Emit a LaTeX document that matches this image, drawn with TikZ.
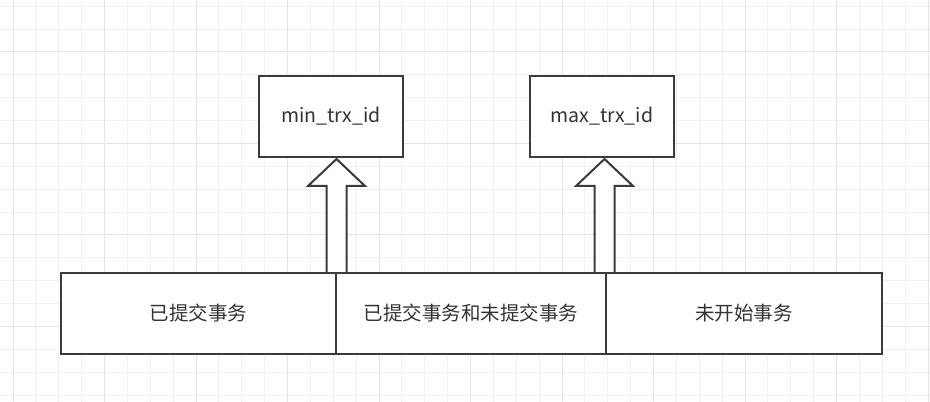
\documentclass[tikz,border=0pt]{standalone}
\usepackage{fontspec}
\setmainfont{Noto Sans CJK SC}
\usetikzlibrary{calc}
\definecolor{minorgrid}{HTML}{F1F1F1}
\definecolor{majorgrid}{HTML}{E4E4E4}
\definecolor{strokec}{HTML}{383B40}
\definecolor{textc}{HTML}{333333}
\tikzset{
  box/.style={draw=strokec, line width=2pt, fill=white, minimum height=81pt, inner sep=0pt,
    text=textc, font=\fontsize{19.5}{22}\selectfont},
  fatarrow/.style={draw=strokec, line width=2pt, fill=white, line join=miter},
}
\begin{document}
\begin{tikzpicture}[x=1pt,y=1pt]
\useasboundingbox (0,0) rectangle (930,402);
\fill[white] (0,0) rectangle (930,402);
% grid
\foreach \i in {0,...,40}{
  \pgfmathsetmacro\xx{13+22.875*\i}
  \draw[minorgrid, line width=1pt] (\xx,0) -- (\xx,402);
}
\foreach \j in {0,...,17}{
  \pgfmathsetmacro\yy{402-(6.25+22.875*\j)}
  \draw[minorgrid, line width=1pt] (0,\yy) -- (930,\yy);
}
\foreach \i in {0,...,10}{
  \pgfmathsetmacro\xx{13+91.5*\i}
  \draw[majorgrid, line width=1pt] (\xx,0) -- (\xx,402);
}
\foreach \j in {0,...,3}{
  \pgfmathsetmacro\yy{402-(52+91.5*\j)}
  \draw[majorgrid, line width=1pt] (0,\yy) -- (930,\yy);
}
% top boxes
\node[box, minimum width=144pt] (minbox) at (331,285.5) {min\_trx\_id};
\node[box, minimum width=144pt] (maxbox) at (602,285.5) {max\_trx\_id};
% arrow base coordinates
\coordinate (a1) at (336.5,129);
\coordinate (a2) at (604.5,129);
% fat arrows
\foreach \base/\target in {a1/minbox, a2/maxbox}{
  \draw[fatarrow] ($(\base)+(-10,0)$) -- ($(\base |- \target.south)+(-10,-28)$)
    -- ($(\base |- \target.south)+(-28.5,-28)$) -- ($(\base |- \target.south)+(0,-1)$)
    -- ($(\base |- \target.south)+(28.5,-28)$) -- ($(\base |- \target.south)+(10,-28)$)
    -- ($(\base)+(10,0)$);
}
% bottom row
\node[box, minimum width=275pt] (done) at (198.5,88.5) {已提交事务};
\node[box, minimum width=270pt] (mixed) at (471,88.5) {已提交事务和未提交事务};
\node[box, minimum width=276pt] (future) at (744,88.5) {未开始事务};
\end{tikzpicture}
\end{document}
